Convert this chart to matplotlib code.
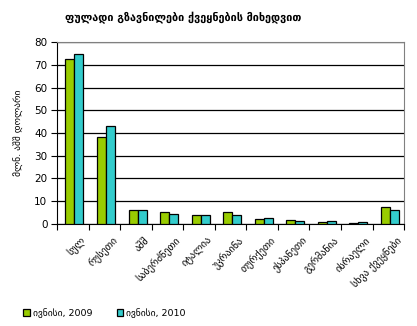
import numpy as np
import matplotlib
matplotlib.use("Agg")
import matplotlib.pyplot as plt

plt.rcParams['font.family'] = ['DejaVu Sans']

categories = ["სულ", "რუსეთი", "აშშ", "საბერძნეთი", "იტალია", "უკრაინა",
              "თურქეთი", "ესპანეთი", "გერმანია", "ისრაელი", "სხვა ქვეყნები"]
june_2009 = [72.4, 38.1, 6.0, 5.1, 3.8, 5.1, 2.0, 1.6, 0.7, 0.3, 7.3]
june_2010 = [74.6, 42.9, 6.0, 4.3, 3.8, 3.8, 2.5, 1.2, 1.2, 0.7, 6.0]
series_names = ["ივნისი, 2009", "ივნისი, 2010"]
title = "ფულადი გზავნილები ქვეყნების მიხედვით"
ylabel = "მლნ. აშშ დოლარი"

fig = plt.figure(figsize=(4.17, 3.26), dpi=100)
ax = fig.add_axes([0.137, 0.313, 0.832, 0.558])

x = np.arange(len(categories))
w = 0.285
ax.bar(x - w / 2 + 0.05, june_2009, w, color="#99CC00", edgecolor="black", linewidth=0.9,
       label=series_names[0], zorder=3)
ax.bar(x + w / 2 + 0.05, june_2010, w, color="#33CCCC", edgecolor="black", linewidth=0.9,
       label=series_names[1], zorder=3)

ax.set_xlim(-0.5, len(categories) - 0.5)
ax.set_ylim(0, 80)
ax.set_yticks(range(0, 81, 10))
ax.yaxis.grid(True, color="black", linewidth=0.9, zorder=0)
ax.tick_params(axis="y", direction="out", length=4, labelsize=7.5, pad=3)

# ticks between categories, labels at centers
ax.set_xticks(np.arange(-0.5, len(categories), 1.0))
ax.set_xticklabels([])
ax.tick_params(axis="x", which="major", direction="out", length=4)
ax.set_xticks(x + 0.25, minor=True)
ax.set_xticklabels(categories, minor=True, rotation=45, ha="right",
                   rotation_mode="anchor", fontsize=7.3)
ax.tick_params(axis="x", which="minor", length=0, pad=8)

for s in ["top", "right"]:
    ax.spines[s].set_color("gray")
for s in ["left", "bottom"]:
    ax.spines[s].set_color("black")

ax.set_ylabel(ylabel, fontsize=6.8, labelpad=8)
fig.text(0.44, 0.948, title, ha="center", va="center", fontsize=7.8, fontweight="bold")

fig.legend(loc="lower left", bbox_to_anchor=(0.035, 0.0), ncol=2, frameon=False,
           fontsize=6.8, handlelength=0.7, handleheight=0.7, handletextpad=0.3,
           columnspacing=2.6)

fig.savefig("out.png", dpi=100)
